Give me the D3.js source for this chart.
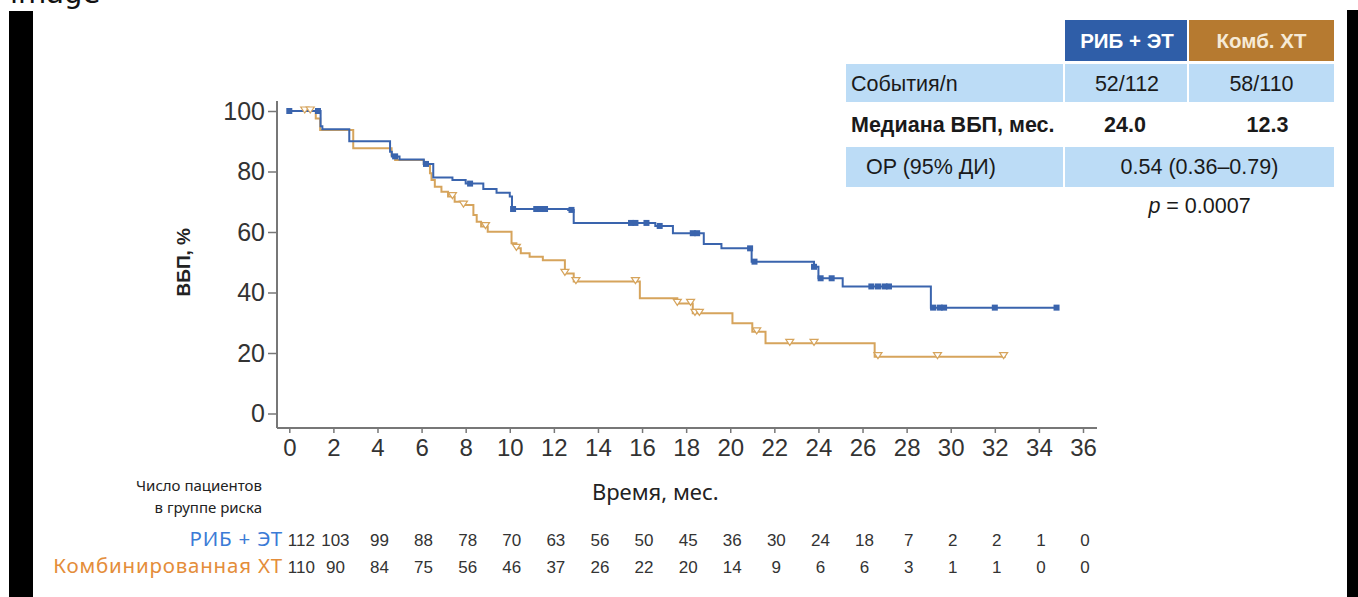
<!DOCTYPE html>
<html>
<head>
<meta charset="utf-8">
<script src="https://cdn.jsdelivr.net/npm/d3@7"></script>
<style>
  body { margin: 0; background: #fff; }
  svg { display: block; }
</style>
</head>
<body>
<div id="chart"></div>
<script>
// KM steps: [month, PFS %]
var ribSteps = [[0,100],[1.42,95],[1.5,94],[2.72,90],[4.57,86.5],[4.65,85],[5.0,84],[6.1,82.5],[6.53,78],
  [7.4,77.2],[8.0,76],[8.8,74.2],[9.4,73],[10.0,71.7],[10.1,67.6],[12.65,67.3],[12.9,63],[16.6,62],[17.4,59.6],
  [18.8,56],[19.6,54.6],[20.97,50.2],[23.8,48.5],[24.0,44.7],[25.1,42],[29.1,35],[34.8,35]];
var chemoSteps = [[0,100],[1.2,97.5],[1.4,93.7],[2.9,87.7],[4.64,85.4],[4.8,83.8],[6.1,82.5],[6.38,79.4],
  [6.45,77.2],[6.6,75],[6.9,73.3],[7.2,71.7],[7.5,70],[7.9,68.9],[8.35,65.6],[8.5,63.4],[8.7,61.8],[9.0,60.1],
  [10.08,56.3],[10.3,54.6],[10.5,53],[10.9,51.8],[11.5,50.7],[12.5,46.3],[12.9,43.6],[15.9,38.1],[17.6,36.4],
  [18.3,33.1],[20.1,29.8],[21.0,27.0],[21.6,23.2],[26.55,18.8],[32.5,18.8]];

// censored times
var ribCensor = [0,1.3,4.8,6.2,8.2,10.15,11.2,11.4,11.6,12.8,15.5,15.7,16.2,16.8,18.3,18.5,20.9,21.1,23.8,24.1,
  24.6,26.4,26.7,27.0,27.2,29.2,29.5,29.7,32.0,34.8];
var chemoCensor = [0.7,0.95,7.4,7.9,8.9,10.3,12.5,13.0,15.7,17.6,18.2,18.4,18.6,21.2,22.7,23.8,26.7,29.4,32.4];

var xTicks = d3.range(0, 37, 2);
var yTicks = [0, 20, 40, 60, 80, 100];

// patients at risk
var ribRisk = [112,103,99,88,78,70,63,56,50,45,36,30,24,18,7,2,2,1,0];
var chemoRisk = [110,90,84,75,56,46,37,26,22,20,14,9,6,6,3,1,1,0,0];

// summary table
var tableHead = ["РИБ + ЭТ", "Комб. ХТ"];
var rowEvents = ["События/n", "52/112", "58/110"];
var rowMedian = ["Медиана ВБП, мес.", "24.0", "12.3"];
var rowHR = ["OP (95% ДИ)", "0.54 (0.36–0.79)"];
var pValue = "0.0007";

var blue = "#3a64ad", orange = "#d6a45c";
var W = 1358, H = 597;

var svg = d3.select("#chart").append("svg")
    .attr("width", W)
    .attr("height", H);

// page frame bits: caption and black side bars
svg.append("text")
    .attr("x", 10).attr("y", 3)
    .style("font-family", "DejaVu Sans")
    .style("font-size", "29px")
    .style("fill", "#111")
    .text("image");
svg.append("rect").attr("x", 9).attr("y", 11).attr("width", 24).attr("height", H - 11).attr("fill", "#000");
svg.append("rect").attr("x", 1347).attr("y", 10).attr("width", W - 1347).attr("height", H - 10).attr("fill", "#000");

var x = d3.scaleLinear().domain([0, 36]).range([289.3, 1083]);
var y = d3.scaleLinear().domain([0, 100]).range([413.5, 111]);
var axisX = 277, axisY = 428;

// y axis
var yAxis = svg.append("g")
    .attr("transform", "translate(" + axisX + ",0)")
    .call(d3.axisLeft(y).tickValues(yTicks).tickSize(9).tickPadding(3));
yAxis.select(".domain").remove();
yAxis.selectAll("line").attr("stroke", "#777").attr("stroke-width", 1.5);
yAxis.selectAll("text")
    .style("font-family", "Liberation Sans, Arial")
    .style("font-size", "25px")
    .style("fill", "#333");

// x axis
var xAxis = svg.append("g")
    .attr("transform", "translate(0," + axisY + ")")
    .call(d3.axisBottom(x).tickValues(xTicks).tickSize(5).tickPadding(6));
xAxis.select(".domain").remove();
xAxis.selectAll("line").attr("stroke", "#777").attr("stroke-width", 1.5);
xAxis.selectAll("text")
    .style("font-family", "Liberation Sans, Arial")
    .style("font-size", "24px")
    .style("fill", "#333");

svg.append("line")
    .attr("x1", axisX).attr("x2", axisX)
    .attr("y1", y(100) - 10).attr("y2", axisY)
    .attr("stroke", "#777").attr("stroke-width", 2);
svg.append("line")
    .attr("x1", axisX).attr("x2", x(36) + 14)
    .attr("y1", axisY).attr("y2", axisY)
    .attr("stroke", "#777").attr("stroke-width", 2);

// axis titles
svg.append("text")
    .attr("transform", "translate(190," + y(50) + ") rotate(-90)")
    .attr("text-anchor", "middle")
    .style("font-family", "Liberation Sans, Arial")
    .style("font-weight", "bold")
    .style("font-size", "19px")
    .style("fill", "#222")
    .text("ВБП, %");

svg.append("text")
    .attr("x", x(16.6)).attr("y", 500)
    .attr("text-anchor", "middle")
    .style("font-family", "Noto Sans")
    .style("font-size", "22px")
    .style("fill", "#222")
    .text("Время, мес.");

// survival curves
var step = d3.line()
    .x(function(d) { return x(d[0]); })
    .y(function(d) { return y(d[1]); })
    .curve(d3.curveStepAfter);

function survAt(steps, t) {
  var v = steps[0][1];
  steps.forEach(function(s) { if (s[0] <= t) v = s[1]; });
  return v;
}

svg.append("path")
    .datum(chemoSteps)
    .attr("fill", "none")
    .attr("stroke", orange)
    .attr("stroke-width", 2)
    .attr("d", step);

svg.append("path")
    .datum(ribSteps)
    .attr("fill", "none")
    .attr("stroke", blue)
    .attr("stroke-width", 2)
    .attr("d", step);

svg.append("g").selectAll("path")
    .data(chemoCensor)
    .enter().append("path")
    .attr("transform", function(d) { return "translate(" + x(d) + "," + (y(survAt(chemoSteps, d)) - 1) + ")"; })
    .attr("d", "M-4,-3L4,-3L0,3Z")
    .attr("fill", "#fff")
    .attr("stroke", orange)
    .attr("stroke-width", 1.2);

svg.append("g").selectAll("rect")
    .data(ribCensor)
    .enter().append("rect")
    .attr("x", function(d) { return x(d) - 3; })
    .attr("y", function(d) { return y(survAt(ribSteps, d)) - 3; })
    .attr("width", 6)
    .attr("height", 6)
    .attr("fill", blue);

// patients at risk
svg.append("text")
    .attr("x", 262).attr("y", 491)
    .attr("text-anchor", "end")
    .style("font-family", "Noto Sans")
    .style("font-size", "15px")
    .style("fill", "#222")
    .text("Число пациентов");
svg.append("text")
    .attr("x", 262).attr("y", 513)
    .attr("text-anchor", "end")
    .style("font-family", "Noto Sans")
    .style("font-size", "15px")
    .style("fill", "#222")
    .text("в группе риска");

var riskRows = [
  {label: "РИБ + ЭТ", color: "#3b7bd6", vals: ribRisk, yy: 546},
  {label: "Комбинированная ХТ", color: "#e48d3a", vals: chemoRisk, yy: 573}
];
riskRows.forEach(function(r) {
  svg.append("text")
      .attr("x", 283).attr("y", r.yy)
      .attr("text-anchor", "end")
      .style("font-family", "Noto Sans")
      .style("font-size", "20.5px")
      .style("letter-spacing", "0.8px")
      .style("fill", r.color)
      .text(r.label);
  svg.append("g").selectAll("text")
      .data(r.vals)
      .enter().append("text")
      .attr("x", function(d, i) { return x(xTicks[i]) + (i === 0 ? 12 : 2); })
      .attr("y", r.yy)
      .attr("text-anchor", "middle")
      .style("font-family", "Liberation Sans, Arial")
      .style("font-size", "17px")
      .style("fill", "#333")
      .text(function(d) { return d; });
});

// summary table
var tf = "Liberation Sans, Arial";
var c0 = 846, c1 = 1065, c2 = 1189, c3 = 1334;
var headY = 20, headH = 41;
var rows = [{top: 64, h: 38, fill: "#bcdcf6"}, {top: 104, h: 40, fill: "#fff"}, {top: 147, h: 40, fill: "#bcdcf6"}];

svg.append("rect").attr("x", c1).attr("y", headY).attr("width", c2 - c1 - 2).attr("height", headH).attr("fill", "#2f5ea8");
svg.append("rect").attr("x", c2).attr("y", headY).attr("width", c3 - c2).attr("height", headH).attr("fill", "#b67a30");
svg.append("text").attr("x", (c1 + c2) / 2).attr("y", headY + 28)
    .attr("text-anchor", "middle")
    .style("font-family", tf).style("font-weight", "bold").style("font-size", "20.5px")
    .style("fill", "#fff").text(tableHead[0]);
svg.append("text").attr("x", (c2 + c3) / 2).attr("y", headY + 28)
    .attr("text-anchor", "middle")
    .style("font-family", tf).style("font-weight", "bold").style("font-size", "20.5px")
    .style("fill", "#f6ead6").text(tableHead[1]);

rows.forEach(function(r) {
  svg.append("rect").attr("x", c0).attr("y", r.top).attr("width", c1 - c0 - 2).attr("height", r.h).attr("fill", r.fill);
  svg.append("rect").attr("x", c1).attr("y", r.top).attr("width", c3 - c1).attr("height", r.h).attr("fill", r.fill);
});
// thin separator in the first row
svg.append("line").attr("x1", c2 - 1).attr("x2", c2 - 1).attr("y1", rows[0].top).attr("y2", rows[0].top + rows[0].h)
    .attr("stroke", "#fff").attr("stroke-width", 2);

function cell(txt, xx, yy, anchor, bold) {
  svg.append("text").attr("x", xx).attr("y", yy)
      .attr("text-anchor", anchor)
      .style("font-family", tf)
      .style("font-weight", bold ? "bold" : "normal")
      .style("font-size", "21.5px")
      .style("fill", "#1a1a1a")
      .text(txt);
}
cell(rowEvents[0], 851, 91, "start", false);
cell(rowEvents[1], (c1 + c2) / 2, 91, "middle", false);
cell(rowEvents[2], (c2 + c3) / 2, 91, "middle", false);
cell(rowMedian[0], 851, 132, "start", true);
cell(rowMedian[1], (c1 + c2) / 2 - 2, 132, "middle", true);
cell(rowMedian[2], (c2 + c3) / 2 + 6, 132, "middle", true);
cell(rowHR[0], 866, 174, "start", false);
cell(rowHR[1], (c1 + c3) / 2, 174, "middle", false);

var pt = svg.append("text").attr("x", (c1 + c3) / 2).attr("y", 213)
    .attr("text-anchor", "middle")
    .style("font-family", tf).style("font-size", "21.5px").style("fill", "#1a1a1a");
pt.append("tspan").style("font-style", "italic").text("p");
pt.append("tspan").text(" = " + pValue);
</script>
</body>
</html>
